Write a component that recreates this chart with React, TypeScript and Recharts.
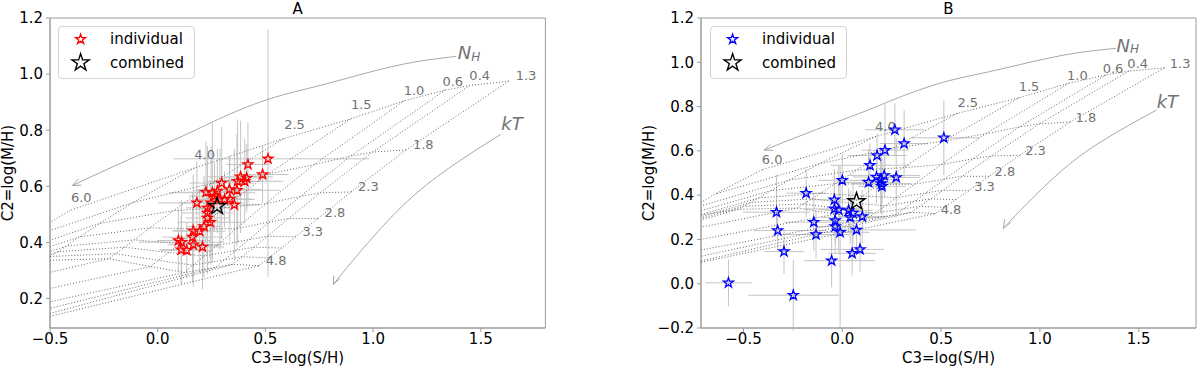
import React from "react";
import {
  ScatterChart,
  Scatter,
  XAxis,
  YAxis,
  ErrorBar,
  ReferenceArea,
  Legend,
} from "recharts";

const FONT = "DejaVu Sans, sans-serif";
const GREY_TEXT = "#727272";

// model grid: columns of constant NH, nodes at kT values
const gridNH = ["0.1", "0.4", "0.6", "1.0", "1.5", "2.5", "4.0", "6.0"];
const gridKT = [1.3, 1.8, 2.3, 2.8, 3.3, 3.8, 4.3, 4.8, 10];
const gridC3 = [
  [1.63, 1.153, 0.898, 0.743, 0.64, 0.575, 0.515, 0.47, -0.75],
  [1.45, 0.997, 0.755, 0.607, 0.51, 0.448, 0.391, 0.348, -0.8],
  [1.335, 0.896, 0.662, 0.519, 0.424, 0.364, 0.309, 0.268, -0.8],
  [1.145, 0.725, 0.501, 0.364, 0.274, 0.217, 0.164, 0.124, -0.8],
  [0.895, 0.513, 0.309, 0.185, 0.103, 0.051, 0.003, -0.033, -0.8],
  [0.585, 0.251, 0.073, -0.036, -0.108, -0.154, -0.196, -0.227, -0.8],
  [0.17, -0.116, -0.269, -0.362, -0.424, -0.463, -0.499, -0.526, -0.8],
  [-0.405, -0.644, -0.771, -0.849, -0.9, -0.933, -0.963, -0.985, -1.2],
];
const gridC2 = [
  [0.975, 0.73, 0.58, 0.485, 0.42, 0.38, 0.345, 0.317, 0.09],
  [0.96, 0.722, 0.577, 0.485, 0.422, 0.383, 0.349, 0.322, 0.085],
  [0.943, 0.708, 0.564, 0.473, 0.41, 0.372, 0.338, 0.311, 0.108],
  [0.905, 0.677, 0.538, 0.449, 0.389, 0.352, 0.319, 0.293, 0.138],
  [0.84, 0.644, 0.524, 0.448, 0.396, 0.364, 0.336, 0.314, 0.186],
  [0.77, 0.611, 0.513, 0.452, 0.409, 0.383, 0.36, 0.342, 0.24],
  [0.665, 0.542, 0.468, 0.42, 0.387, 0.367, 0.35, 0.336, 0.3],
  [0.515, 0.405, 0.337, 0.295, 0.265, 0.247, 0.232, 0.219, 0.15],
];

const nhLabels = ["6.0", "4.0", "2.5", "1.5", "1.0", "0.6", "0.4"];
const nhLabelC3 = [-0.355, 0.218, 0.635, 0.945, 1.19, 1.37, 1.495];
const nhLabelC2 = [0.561, 0.712, 0.82, 0.892, 0.942, 0.973, 0.995];
const ktLabels = ["1.3", "1.8", "2.3", "2.8", "3.3", "4.8"];
const ktLabelC3 = [1.71, 1.233, 0.978, 0.823, 0.72, 0.55];
const ktLabelC2 = [0.995, 0.75, 0.6, 0.505, 0.44, 0.337];

const nhArrowC3 = [1.386, 1.106, 0.776, 0.512, 0.281, 0.115, -0.132, -0.396];
const nhArrowC2 = [1.063, 1.03, 0.964, 0.91, 0.839, 0.779, 0.696, 0.603];
const ktArrowC3 = [1.592, 1.4, 1.2, 1.03, 0.9, 0.815];
const ktArrowC2 = [0.785, 0.69, 0.575, 0.445, 0.33, 0.25];
const nhTitlePos = [1.445, 1.076];
const ktTitlePos = [1.645, 0.825];

// panel A
const aC3 = [
  0.512, 0.419, 0.487, 0.385, 0.413, 0.404, 0.371, 0.297, 0.224, 0.254, 0.277,
  0.333, 0.368, 0.182, 0.264, 0.289, 0.31, 0.335, 0.356, 0.248, 0.231, 0.231,
  0.231, 0.244, 0.215, 0.195, 0.165, 0.162, 0.165, 0.208, 0.096, 0.111, 0.109,
  0.135,
];
const aC2 = [
  0.698, 0.678, 0.642, 0.634, 0.63, 0.618, 0.618, 0.612, 0.579, 0.577, 0.583,
  0.589, 0.586, 0.541, 0.565, 0.555, 0.553, 0.555, 0.534, 0.541, 0.523, 0.505,
  0.487, 0.472, 0.457, 0.44, 0.442, 0.419, 0.392, 0.384, 0.407, 0.401, 0.374,
  0.372,
];
const aErrC3 = [
  [0.44, 0.47], 0.1, 0.12, 0.15, 0.1, 0.18, 0.12, 0.15, 0.12, 0.2, 0.1, 0.15,
  0.2, 0.18, 0.12, 0.1, 0.14, 0.1, 0.12, 0.15, 0.1, 0.12, 0.1, 0.15, 0.08, 0.12,
  0.1, 0.14, 0.12, 0.1, [0.1, 0.15], 0.2, 0.1, 0.12,
];
const aErrC2 = [
  [0.42, 0.46], 0.15, 0.1, 0.2, 0.12, 0.15, 0.22, 0.2, 0.18, 0.25, 0.15, 0.12,
  0.2, 0.15, 0.12, 0.18, 0.1, 0.15, 0.2, 0.2, 0.22, 0.18, 0.2, 0.15, 0.18, 0.15,
  0.2, 0.16, 0.12, 0.15, 0.11, 0.15, 0.12, 0.1,
];
const aCombined = [0.276, 0.529];

// panel B
const bC3 = [
  -0.576, -0.248, -0.054, 0.05, 0.09, -0.295, -0.327, -0.333, -0.183, -0.144,
  -0.133, -0.04, -0.04, -0.018, -0.036, -0.036, -0.011, 0.0, 0.032, 0.04, 0.054,
  0.101, 0.072, 0.133, 0.14, 0.176, 0.216, 0.173, 0.194, 0.198, 0.201, 0.212,
  0.273, 0.266, 0.313, 0.514,
];
const bC2 = [
  0.004, -0.052, 0.104, 0.137, 0.155, 0.145, 0.24, 0.323, 0.409, 0.278, 0.222,
  0.379, 0.338, 0.334, 0.285, 0.258, 0.232, 0.467, 0.331, 0.3, 0.319, 0.303,
  0.243, 0.458, 0.535, 0.579, 0.603, 0.482, 0.47, 0.452, 0.44, 0.489, 0.48,
  0.695, 0.633, 0.659,
];
const bErrC3 = [
  0.117, 0.23, [0.14, 0.22], 0.12, [0.2, 0.12], 0.1, [0.12, 0.25], 0.17, 0.1,
  0.15, 0.17, 0.12, 0.15, 0.1, 0.12, 0.1, 0.15, 0.12, 0.12, 0.15, 0.1, 0.12,
  [0.1, 0.3], 0.15, 0.2, 0.15, 0.12, 0.12, 0.1, 0.15, 0.12, 0.18, 0.12, 0.15,
  0.12, [0.17, 0.18],
];
const bErrC2 = [
  0.105, 0.16, 0.12, 0.1, 0.1, 0.1, 0.09, [0.1, 0.17], 0.11, 0.13, 0.11, 0.14,
  0.12, 0.2, 0.1, 0.12, [0.43, 0.3], 0.12, 0.1, 0.12, 0.14, 0.12, 0.1, 0.15,
  0.1, 0.1, [0.12, 0.21], 0.12, 0.15, 0.12, 0.13, 0.1, 0.18, 0.12, 0.15, 0.17,
];
const bCombined = [0.072, 0.371];

const pair = (e: number | number[]) => (Array.isArray(e) ? e : [e, e]);

const gridColumns = gridC3.map((xs, i) =>
  xs.map((x, j) => ({ x, y: gridC2[i][j] }))
);
const gridRows = gridKT.map((_, j) =>
  gridC3.map((xs, i) => ({ x: xs[j], y: gridC2[i][j] }))
);
const gridLabels = [
  ...nhLabels.map((t, i) => ({ x: nhLabelC3[i], y: nhLabelC2[i], t })),
  ...ktLabels.map((t, i) => ({ x: ktLabelC3[i], y: ktLabelC2[i], t })),
];
const nhArrow = nhArrowC3.map((x, i) => ({ x, y: nhArrowC2[i] }));
const ktArrow = ktArrowC3.map((x, i) => ({ x, y: ktArrowC2[i] }));

const starPath = (cx: number, cy: number, r: number) => {
  let d = "";
  for (let i = 0; i < 10; i++) {
    const a = ((-90 + i * 36) * Math.PI) / 180;
    const rr = i % 2 === 0 ? r : r * 0.382;
    d += (i === 0 ? "M" : "L") + (cx + rr * Math.cos(a)).toFixed(2) + "," + (cy + rr * Math.sin(a)).toFixed(2);
  }
  return d + "Z";
};

const Star = (color: string, r: number, sw: number) => (p: any) =>
  <path d={starPath(p.cx, p.cy, r)} fill="none" stroke={color} strokeWidth={sw} strokeLinejoin="miter" />;

const Nothing = () => <g />;

const arrowHead = (angle: number) => (p: any) => {
  const back = ((angle + 180) * Math.PI) / 180;
  const s = (22 * Math.PI) / 180;
  const len = 9;
  const x1 = p.cx + len * Math.cos(back - s);
  const y1 = p.cy + len * Math.sin(back - s);
  const x2 = p.cx + len * Math.cos(back + s);
  const y2 = p.cy + len * Math.sin(back + s);
  return <path d={`M${x1},${y1}L${p.cx},${p.cy}L${x2},${y2}`} fill="none" stroke="#a8a8a8" strokeWidth={1} />;
};

const labelText = (p: any) => (
  <text x={p.cx} y={p.cy} textAnchor="middle" dominantBaseline="central" fontSize={13} fill={GREY_TEXT} fontFamily={FONT}>
    {p.payload.t}
  </text>
);
const nhTitle = (p: any) => (
  <text x={p.cx} y={p.cy} textAnchor="middle" dominantBaseline="central" fontSize={18} fill={GREY_TEXT} fontFamily={FONT} fontStyle="italic">
    N<tspan fontSize={12} dy={4}>H</tspan>
  </text>
);
const ktTitle = (p: any) => (
  <text x={p.cx} y={p.cy} textAnchor="middle" dominantBaseline="central" fontSize={18} fill={GREY_TEXT} fontFamily={FONT} fontStyle="italic">
    kT
  </text>
);

const fmt = (v: number) => (v < 0 ? "\u2212" : "") + Math.abs(v).toFixed(1);

const yLabel = (props: any) => {
  const { x, y, height } = props.viewBox;
  const cx = x + props.dxPos;
  const cy = y + height / 2;
  return (
    <text x={cx} y={cy} transform={`rotate(-90 ${cx} ${cy})`} textAnchor="middle" dominantBaseline="central" fontSize={15} fontFamily={FONT} fill="#000">
      C2=log(M/H)
    </text>
  );
};
const xLabel = (props: any) => {
  const { x, y, width } = props.viewBox;
  return (
    <text x={x + width / 2} y={y + 30} textAnchor="middle" dominantBaseline="central" fontSize={15} fontFamily={FONT} fill="#000">
      C3=log(S/H)
    </text>
  );
};

const legendBox = (color: string) => () => (
  <div style={{ position: "relative", width: 137, height: 53, boxSizing: "border-box", border: "1px solid #d4d4d4", borderRadius: 4, background: "#fff", fontFamily: FONT, fontSize: 15, color: "#000" }}>
    <svg width={137} height={53} style={{ position: "absolute", left: -1, top: -1 }}>
      <path d={starPath(22.6, 13.3, 5.2)} fill="none" stroke={color} strokeWidth={1.3} />
      <path d={starPath(22.6, 36.7, 9)} fill="none" stroke="#000" strokeWidth={1.4} />
    </svg>
    <div style={{ position: "absolute", left: 51, top: 3, lineHeight: "18px" }}>individual</div>
    <div style={{ position: "absolute", left: 51, top: 26.5, lineHeight: "18px" }}>combined</div>
  </div>
);

type PanelProps = {
  title: string;
  color: string;
  c3: number[];
  c2: number[];
  e3: (number | number[])[];
  e2: (number | number[])[];
  combined: number[];
  xDomain: [number, number];
  yDomain: [number, number];
  yTicks: number[];
  pageLeft: number;
  yAxisWidth: number;
  marginRight: number;
  legendLeft: number;
  yLabelX: number;
  nhAngle: number;
  ktAngle: number;
};

function Panel(pp: PanelProps) {
  const W = 560;
  const H = 369;
  const top = 18;
  const xH = 41;
  const stars = pp.c3.map((x, i) => ({ x, y: pp.c2[i], ex: pair(pp.e3[i]), ey: pair(pp.e2[i]) }));
  const comb = [{ x: pp.combined[0], y: pp.combined[1] }];
  const plotW = W - pp.yAxisWidth - pp.marginRight;
  const axisGrey = "#9c9c9c";
  return (
    <div style={{ position: "absolute", left: pp.pageLeft, top: 0, width: W, height: H }}>
      <div style={{ position: "absolute", left: pp.yAxisWidth, width: plotW, top: 0, textAlign: "center", fontFamily: FONT, fontSize: 15, lineHeight: "19px" }}>
        {pp.title}
      </div>
      <ScatterChart width={W} height={H} margin={{ top, right: pp.marginRight, left: 0, bottom: 0 }}>
        <XAxis
          type="number"
          dataKey="x"
          domain={pp.xDomain}
          ticks={[-0.5, 0, 0.5, 1, 1.5]}
          tickFormatter={fmt}
          allowDataOverflow
          height={xH}
          tickSize={4}
          tickMargin={1}
          tick={{ fontSize: 15, fill: "#000", fontFamily: FONT }}
          tickLine={{ stroke: axisGrey }}
          axisLine={{ stroke: axisGrey }}
          label={xLabel}
        />
        <YAxis
          type="number"
          dataKey="y"
          domain={pp.yDomain}
          ticks={pp.yTicks}
          tickFormatter={fmt}
          allowDataOverflow
          width={pp.yAxisWidth}
          tickSize={4}
          tickMargin={3}
          tick={{ fontSize: 15, fill: "#000", fontFamily: FONT }}
          tickLine={{ stroke: axisGrey }}
          axisLine={{ stroke: axisGrey }}
          label={(p: any) => yLabel({ ...p, dxPos: pp.yLabelX })}
        />
        <ReferenceArea x1={pp.xDomain[0]} x2={pp.xDomain[1]} y1={pp.yDomain[0]} y2={pp.yDomain[1]} fill="none" stroke={axisGrey} strokeWidth={1} ifOverflow="visible" />
        {gridColumns.map((pts, i) => (
          <Scatter key={"c" + gridNH[i]} data={pts} line={{ stroke: "#666", strokeWidth: 1, strokeDasharray: "1 2" }} shape={Nothing} legendType="none" isAnimationActive={false} />
        ))}
        {gridRows.map((pts, j) => (
          <Scatter key={"r" + gridKT[j]} data={pts} line={{ stroke: "#666", strokeWidth: 1, strokeDasharray: "1 2" }} shape={Nothing} legendType="none" isAnimationActive={false} />
        ))}
        <Scatter data={nhArrow} line={{ stroke: "#a8a8a8", strokeWidth: 1 }} lineJointType="natural" shape={Nothing} legendType="none" isAnimationActive={false} />
        <Scatter data={ktArrow} line={{ stroke: "#a8a8a8", strokeWidth: 1 }} lineJointType="natural" shape={Nothing} legendType="none" isAnimationActive={false} />
        <Scatter data={[nhArrow[nhArrow.length - 1]]} shape={arrowHead(pp.nhAngle)} legendType="none" isAnimationActive={false} />
        <Scatter data={[ktArrow[ktArrow.length - 1]]} shape={arrowHead(pp.ktAngle)} legendType="none" isAnimationActive={false} />
        <Scatter data={gridLabels} shape={labelText} legendType="none" isAnimationActive={false} />
        <Scatter data={[{ x: nhTitlePos[0], y: nhTitlePos[1] }]} shape={nhTitle} legendType="none" isAnimationActive={false} />
        <Scatter data={[{ x: ktTitlePos[0], y: ktTitlePos[1] }]} shape={ktTitle} legendType="none" isAnimationActive={false} />
        <Scatter name="individual" data={stars} shape={Star(pp.color, 5.2, 1.3)} isAnimationActive={false}>
          <ErrorBar dataKey="ex" direction="x" width={0} stroke="#c4c4c4" strokeWidth={1} />
          <ErrorBar dataKey="ey" direction="y" width={0} stroke="#c4c4c4" strokeWidth={1} />
        </Scatter>
        <Scatter name="combined" data={comb} shape={Star("#000", 9, 1.4)} isAnimationActive={false} />
        <Legend layout="horizontal" verticalAlign="middle" align="center" content={legendBox(pp.color)} wrapperStyle={{ left: pp.legendLeft, top: 26, width: 137, height: 53 }} />
      </ScatterChart>
    </div>
  );
}

export default function App() {
  return (
    <div style={{ position: "absolute", left: 0, top: 0, width: 1200, height: 369, background: "#fff" }}>
      <Panel
        title="A"
        color="#ff0000"
        c3={aC3}
        c2={aC2}
        e3={aErrC3}
        e2={aErrC2}
        combined={aCombined}
        xDomain={[-0.5, 1.8]}
        yDomain={[0.095, 1.2]}
        yTicks={[0.2, 0.4, 0.6, 0.8, 1.0, 1.2]}
        pageLeft={0}
        yAxisWidth={50}
        marginRight={14.6}
        legendLeft={58}
        yLabelX={8}
        nhAngle={156}
        ktAngle={116}
      />
      <Panel
        title="B"
        color="#0000ff"
        c3={bC3}
        c2={bC2}
        e3={bErrC3}
        e2={bErrC2}
        combined={bCombined}
        xDomain={[-0.715, 1.79]}
        yDomain={[-0.2, 1.2]}
        yTicks={[-0.2, 0, 0.2, 0.4, 0.6, 0.8, 1.0, 1.2]}
        pageLeft={640}
        yAxisWidth={61}
        marginRight={4}
        legendLeft={70}
        yLabelX={9}
        nhAngle={159}
        ktAngle={120}
      />
    </div>
  );
}
